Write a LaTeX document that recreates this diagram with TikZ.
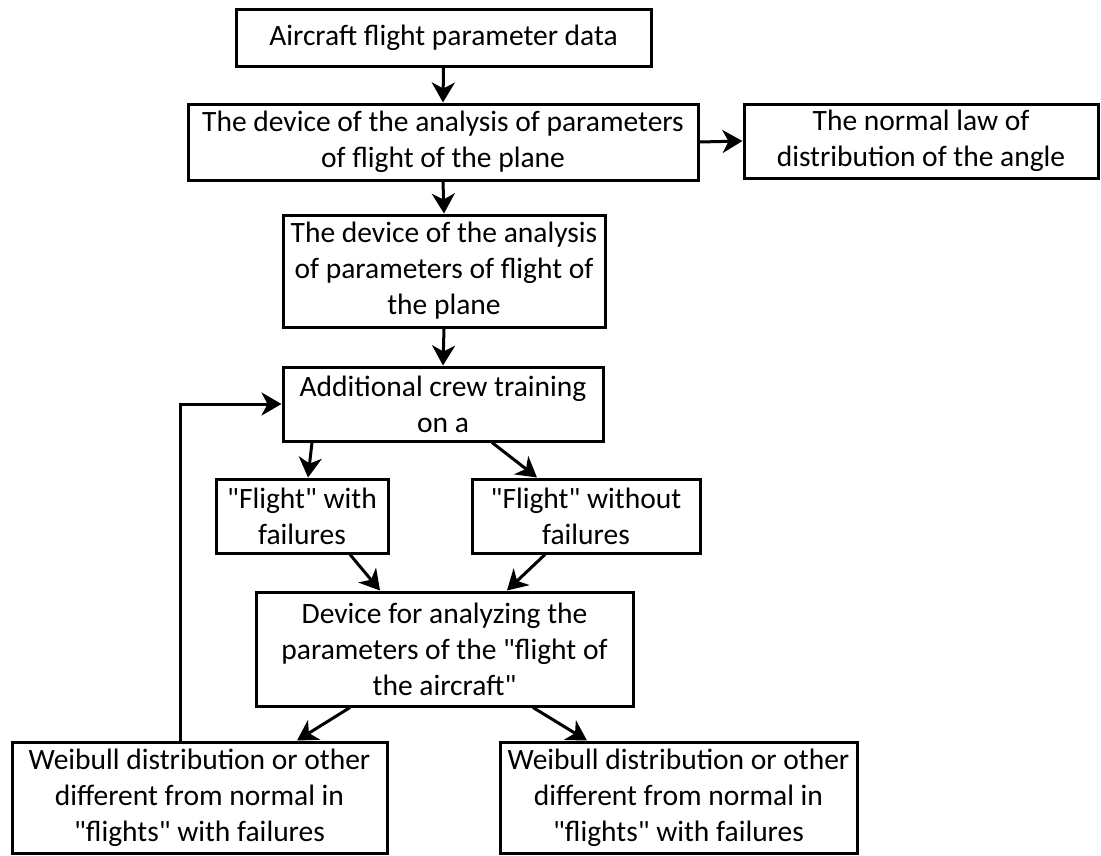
\documentclass[tikz,border=0pt]{standalone}
\usepackage{fontspec}
\setmainfont{Carlito}
\usetikzlibrary{arrows.meta}
\newcommand{\qd}{\textquotedbl{}}
\begin{document}
\begin{tikzpicture}[x=1pt,y=-1pt,
  box/.style={draw=black,line width=3pt,fill=white,inner sep=0pt,align=center,
    font=\fontsize{29.5}{36}\selectfont},
  conn/.style={line width=3pt,-{Stealth[length=20pt,width=23pt,inset=6pt]}}]
\useasboundingbox (0,0) rectangle (1101,855);
\node[box,minimum width=415pt,minimum height=57pt] (b1) at (443.5,37.5) {Aircraft flight parameter data};
\node[box,minimum width=510pt,minimum height=76pt] (b2) at (443,142) {The device of the analysis of parameters\\of flight of the plane};
\node[box,minimum width=354pt,minimum height=74pt] (b3) at (921,141) {The normal law of\\distribution of the angle};
\node[box,minimum width=322pt,minimum height=112pt] (b4) at (444,271) {The device of the analysis\\of parameters of flight of\\the plane};
\node[box,minimum width=320pt,minimum height=74pt] (b5) at (443,404) {Additional crew training\\on a};
\node[box,minimum width=172pt,minimum height=74pt] (b6) at (302,516) {\qd Flight\qd\ with\\failures};
\node[box,minimum width=228pt,minimum height=74pt] (b7) at (586,516) {\qd Flight\qd\ without\\failures};
\node[box,minimum width=377pt,minimum height=114pt] (b8) at (444.5,649) {Device for analyzing the\\parameters of the \qd flight of\\the aircraft\qd};
\node[box,minimum width=375pt,minimum height=111pt] (b9) at (199.5,797.5) {Weibull distribution or other\\different from normal in\\\qd flights\qd\ with failures};
\node[box,minimum width=357pt,minimum height=111pt] (b10) at (678.5,797.5) {Weibull distribution or other\\different from normal in\\\qd flights\qd\ with failures};
\draw[conn] (b1.south) -- (b2.north);
\draw[conn] (b2.south) -- (b4.north);
\draw[conn] (b2.east) -- (b3.west);
\draw[conn] (b4.south) -- (b5.north);
\draw[conn] ([xshift=-131pt]b5.south) -- ([xshift=6pt]b6.north);
\draw[conn] ([xshift=49pt]b5.south) -- ([xshift=-49pt]b7.north);
\draw[conn] ([xshift=48pt]b6.south) -- ([xshift=-64.5pt]b8.north);
\draw[conn] ([xshift=-41pt]b7.south) -- ([xshift=62.5pt]b8.north);
\draw[conn] ([xshift=-94.5pt]b8.south) -- ([xshift=97.5pt]b9.north);
\draw[conn] ([xshift=88.5pt]b8.south) -- ([xshift=-91.5pt]b10.north);
\draw[conn] ([xshift=-19.5pt]b9.north) |- (b5.west);
\end{tikzpicture}
\end{document}
